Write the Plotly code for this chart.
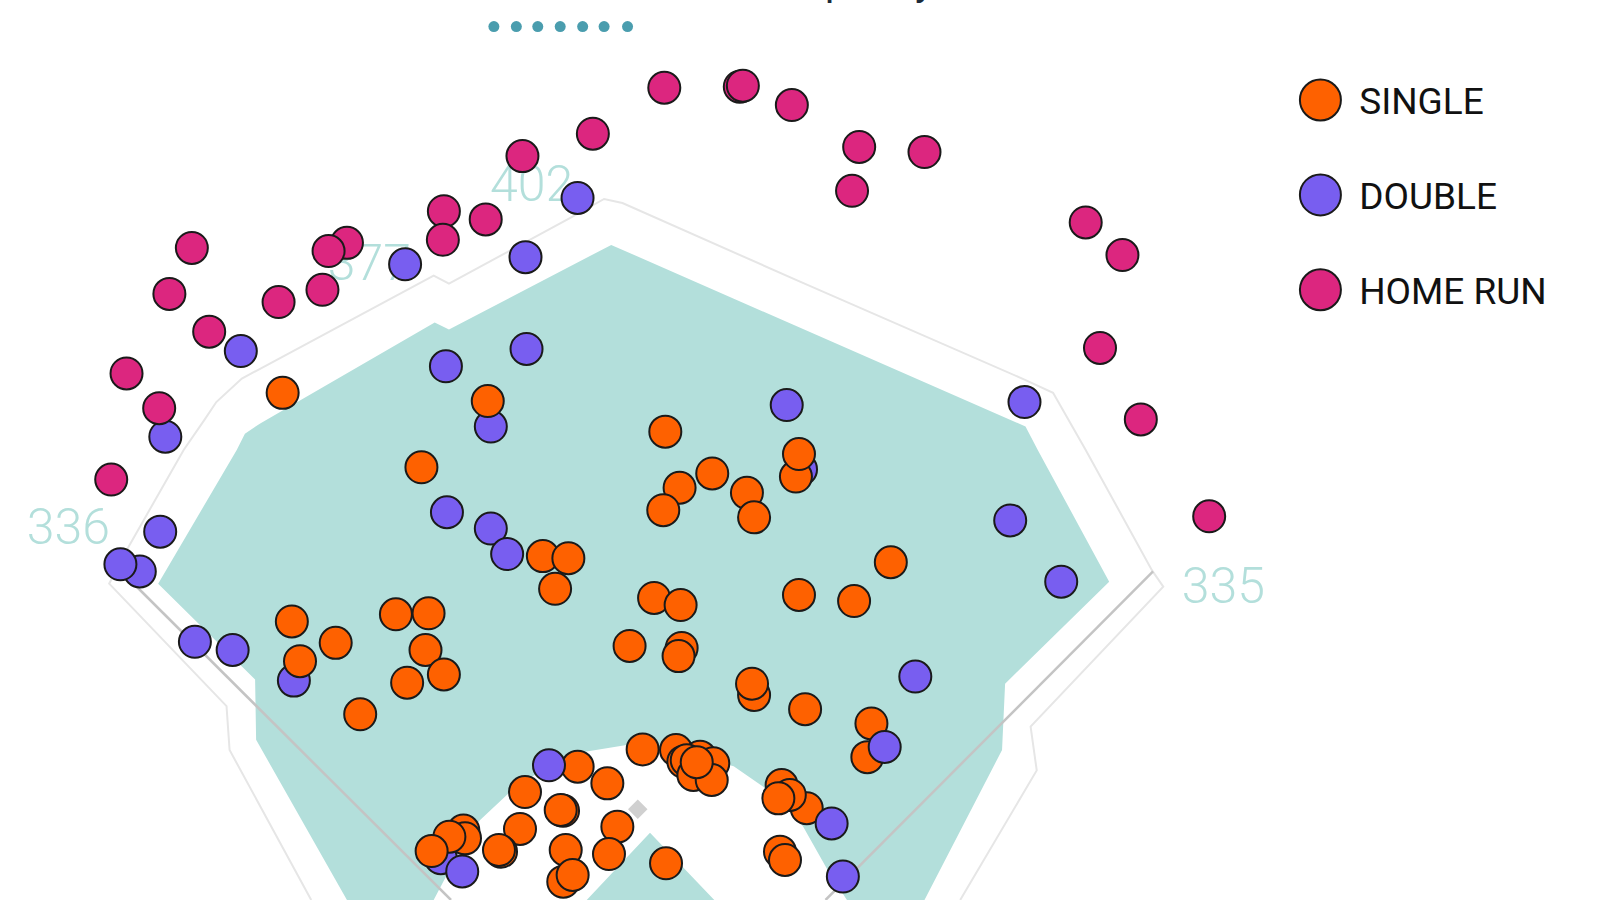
import plotly.graph_objects as go

# Everything is read in the coordinates of the picture (0..1568, 882..0)
single_x = [277,652,413,698,666,650,732,739,532,557,544,873,641,667,783,837,286,388,420,329,417,435,399,353,617,668,665,739,737,789,854,850,629.8,662.5,566.1,595.2,514.5,551.8,549.5,605,509.6,454.1,455.7,491,489,554.4,596.8,652.7,552,561.2,686,699,669.7,673,679.5,697.5,682.8,766,790.6,774,762.8,764.4,769.3]
single_y = [385,423,458,464,478,500,483,507,545,547,577,551,586,593,583,589,609,602,601,630,637,661,669,700,633,635,643,681,670,695,709,742,734.4,735,751.3,767.7,776.2,794.5,793.8,810.1,812.4,814,821.6,834.6,833,833,837,846,864,857.5,741.5,748,746.4,745,759.5,764.4,747,769.3,792,779,782.4,834.6,842.8]
single_top_x = [294,478,780,783,440.4,423]
single_top_y = [648,393,467,445,820,834]
double_x = [566,515,397,236,516,437,481,162,771,1004,785,438,481,497,157,137,118,990,1040,191,228,288,897,867,538,815,826,432,453,794]
double_y = [194,252,259,344,342,359,418,428,397,394,460,502,518,543,521,560,553,510,570,629,637,667,663,732,750,807,859,841,854,890]
homerun_x = [651,725,728,776,842,906,835,581,512,435,476,434,340,322,188,166,273,316,205,124,156,109,1064,1100,1078,1118,1185]
homerun_y = [86,85,84,103,144,149,187,131,153,207,215,235,238,246,243,288,296,284,325,366,400,470,218,250,341,411,506]

grass_x = [599,1005,1017,1087,985,982,906,340,251,250,155,232,240,255,426,440,599]
grass_y = [240,418,441,570,670,735,882,882,725,666,572,441,425,415,316,323,240]
infield_x = [425,447,470,500,529,572,614,653,719,748,770,787,813,830,700,637,575,425]
infield_y = [882,840,804,776,756,737,730,733,751,771,790,810,856,882,882,816,882,882]
wall_x = [941,1016,1010,1140,1129,1064,1032,1004,784,610,592,558,440,425,237,212,200,180,127,107,222,225,305]
wall_y = [882,755,712,575,559,441,385,372,276,199,195,214,278,270,371,394,412,441,534,572,692,735,882]
foul_x = [442,135,None,809,1130]
foul_y = [882,576,None,882,560]
plate_x = [625]
plate_y = [793]
dot_x = [484,506,527,549,571,592,615]
dot_y = [26,26,26,26,26,26,26]
dist_x = [67,362,521,1199]
dist_y = [521,262,185,579]
dist_text = ["336","377","402","335"]
legend_x = [1294,1294,1294]
legend_y = [98,191,284]
legend_label_x = [1332,1332,1332]
legend_label_y = [103,196,289]
legend_text = ["SINGLE","DOUBLE","HOME RUN"]
title_x = [819,906]
title_text = ["p","y"]

ORANGE, PURPLE, PINK = "#FE6100", "#785EF0", "#DC267F"
TEAL = "#B3DFDB"
FONT = "Roboto, sans-serif"
EDGE = dict(color="#1a1a1a", width=2)

fig = go.Figure()
fig.add_trace(go.Scatter(x=grass_x, y=grass_y, mode="lines", fill="toself", fillcolor=TEAL, line=dict(width=0), hoverinfo="skip"))
fig.add_trace(go.Scatter(x=infield_x, y=infield_y, mode="lines", fill="toself", fillcolor="white", line=dict(width=0), hoverinfo="skip"))
fig.add_trace(go.Scatter(x=wall_x, y=wall_y, mode="lines", line=dict(color="#E6E6E6", width=2), hoverinfo="skip"))
fig.add_trace(go.Scatter(x=foul_x, y=foul_y, mode="lines", line=dict(color="#C4C4C4", width=2.5), hoverinfo="skip"))
fig.add_trace(go.Scatter(x=plate_x, y=plate_y, mode="markers", marker=dict(symbol="diamond", size=15, color="#D0D0D0"), hoverinfo="skip"))
fig.add_trace(go.Scatter(x=dist_x, y=dist_y, mode="text", text=dist_text, textposition="middle center",
                         textfont=dict(family=FONT, size=50, weight=300, color=TEAL), hoverinfo="skip"))
fig.add_trace(go.Scatter(x=dot_x, y=dot_y, mode="markers", marker=dict(size=11, color="#4A9DAE"), hoverinfo="skip"))

def hits(name, xs, ys, color):
    fig.add_trace(go.Scatter(x=xs, y=ys, mode="markers", name=name,
                             marker=dict(size=32, color=color, line=EDGE)))

hits("SINGLE", single_x, single_y, ORANGE)
hits("DOUBLE", double_x, double_y, PURPLE)
hits("HOME RUN", homerun_x, homerun_y, PINK)
hits("SINGLE", single_top_x, single_top_y, ORANGE)

fig.add_trace(go.Scatter(x=legend_x, y=legend_y, mode="markers",
                         marker=dict(size=41, color=[ORANGE, PURPLE, PINK], line=EDGE), hoverinfo="skip", cliponaxis=False))
fig.add_trace(go.Scatter(x=legend_label_x, y=legend_label_y, mode="text", text=legend_text, textposition="middle right",
                         textfont=dict(family=FONT, size=37, color="#111111"), hoverinfo="skip", cliponaxis=False))

# Only the descenders of the cut-off title are visible at the top edge of the reference
for tx, tt in zip(title_x, title_text):
    fig.add_annotation(x=tx, xref="x", y=1, yref="paper", yanchor="bottom", text=tt, showarrow=False, yshift=-7,
                       font=dict(family=FONT, size=40, color="#1B2A3A"))

fig.update_layout(width=1600, height=900, margin=dict(l=0, r=0, t=0, b=0), showlegend=False,
                  paper_bgcolor="white", plot_bgcolor="white",
                  xaxis=dict(range=[0, 1568], visible=False, fixedrange=True),
                  yaxis=dict(range=[882, 0], visible=False, fixedrange=True))
fig.write_html("out.html", config=dict(displayModeBar=False),
               post_script="document.body.style.margin='0';")
